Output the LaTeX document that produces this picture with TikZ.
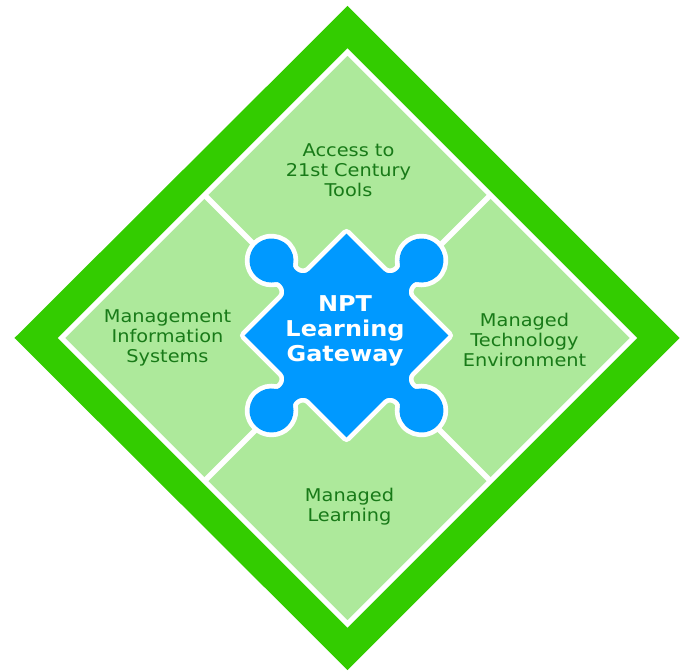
\documentclass[tikz,border=0pt]{standalone}
\usepackage{fontspec}
\newfontfamily\verdfont[FakeStretch=1.1]{DejaVu Sans}
\usetikzlibrary{positioning}
\definecolor{gatewayblue}{HTML}{0099FF}
\definecolor{framegreen}{HTML}{33CC00}
\definecolor{fieldgreen}{HTML}{ADE99B}
\definecolor{labelgreen}{HTML}{187A18}

\begin{document}
\begin{tikzpicture}[
  x=0.02cm, y=0.02cm,
  frame/.style = {fill=framegreen},
  field/.style = {fill=fieldgreen, draw=white, line width=0.1cm},
  divider/.style = {draw=white, line width=0.11cm},
  piece/.style = {fill=gatewayblue, preaction={draw=white, line width=0.19cm, line join=round}},
  area/.style = {align=center, text=labelgreen, font=\verdfont\fontsize{10}{11.4}\selectfont},
  hub/.style = {align=center, text=white, font=\verdfont\bfseries\fontsize{12.4}{14.2}\selectfont}
  ]
  \useasboundingbox (-347.5,-334) rectangle (338.5,338);

  % outer frame and the four fields
  \path[frame] (0,332) -- (332,0) -- (0,-332) -- (-333,0) -- cycle;
  \path[field] (0,286) -- (286,0) -- (0,-286) -- (-286,0) -- cycle;

  \coordinate (nw) at (-143,143);
  \coordinate (ne) at (143,143);
  \coordinate (sw) at (-143,-143);
  \coordinate (se) at (143,-143);
  \draw[divider] (nw) -- (se);
  \draw[divider] (ne) -- (sw);

  % puzzle piece in the middle
  \begin{scope}[shift={(-1,2.5)}, rotate=45]
    \path[piece] (-72,72) -- (-20,72) .. controls (-10,72) and (-8,85) .. (-12,87.6)
      arc[start angle=236.9, end angle=-56.9, radius=22]
      .. controls (8,85) and (10,72) .. (20,72) -- (72,72)
      -- (72,20) .. controls (72,10) and (85,8) .. (87.6,12)
      arc[start angle=146.9, end angle=-146.9, radius=22]
      .. controls (85,-8) and (72,-10) .. (72,-20) -- (72,-72)
      -- (20,-72) .. controls (10,-72) and (8,-85) .. (12,-87.6)
      arc[start angle=56.9, end angle=-236.9, radius=22]
      .. controls (-8,-85) and (-10,-72) .. (-20,-72) -- (-72,-72)
      -- (-72,-20) .. controls (-72,-10) and (-85,-8) .. (-87.6,-12)
      arc[start angle=-33.1, end angle=-326.9, radius=22]
      .. controls (-85,8) and (-72,10) .. (-72,20) -- cycle;
  \end{scope}

  \node[area] (tools) at (1,168) {Access to\\21st Century\\Tools};
  \node[area] (mis) at (-180,0) {Management\\Information\\Systems};
  \node[area] (mte) at (177,-2) {Managed\\Technology\\Environment};
  \node[area] (learn) at (2,-169) {Managed\\Learning};
  \node[hub] (npt) at (-2.5,7) {NPT\\Learning\\Gateway};

\end{tikzpicture}
\end{document}
